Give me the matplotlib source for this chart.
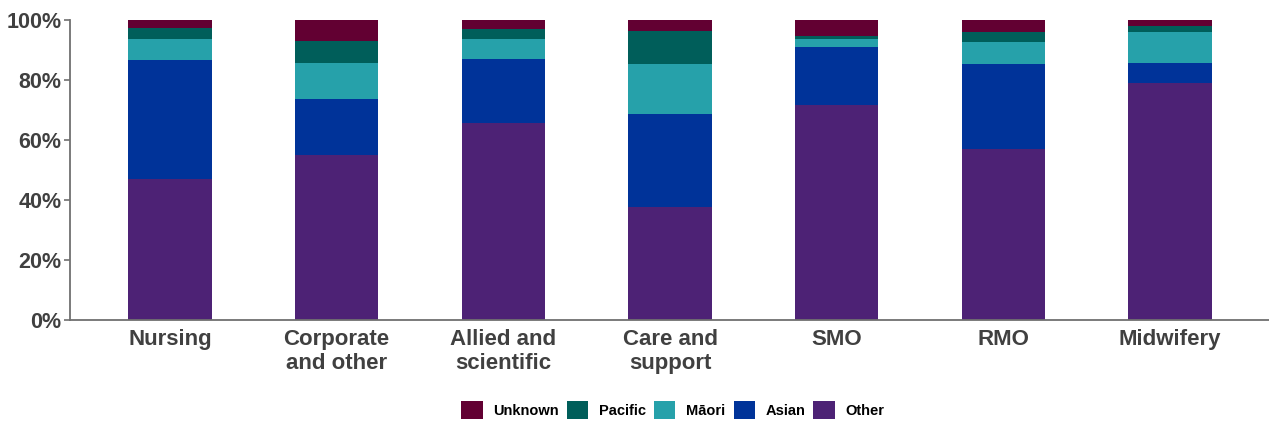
import numpy as np
import matplotlib
matplotlib.use('Agg')
import matplotlib.pyplot as plt
from matplotlib.ticker import PercentFormatter

# workforce groups and ethnicity shares (%)
groups = ['Nursing', 'Corporate\nand other', 'Allied and\nscientific', 'Care and\nsupport',
          'SMO', 'RMO', 'Midwifery']
other = [46.7, 54.8, 65.6, 37.5, 71.5, 56.7, 78.9]
asian = [39.8, 18.7, 21.2, 31.1, 19.4, 28.4, 6.5]
maori = [7.0, 11.9, 6.7, 16.5, 2.6, 7.4, 10.3]
pacific = [3.8, 7.3, 3.3, 11.0, 1.1, 3.2, 2.0]
unknown = [2.7, 7.3, 3.2, 3.9, 5.4, 4.3, 2.3]

series = [('Other', other, '#4d2275'),
          ('Asian', asian, '#003399'),
          ('M\u0101ori', maori, '#26a1aa'),
          ('Pacific', pacific, '#005e5a'),
          ('Unknown', unknown, '#620032')]

plt.rcParams['font.family'] = ['Liberation Sans', 'DejaVu Sans']

fig = plt.figure(figsize=(12.69, 4.24), dpi=100)
ax = fig.add_axes([70/1269, 1 - 319.5/424, 1200/1269, 300/424])

x = np.arange(len(groups))
bottom = np.zeros(len(groups))
handles = []
for name, vals, col in series:
    vals = np.array(vals) / 100.0
    h = ax.bar(x, vals, 0.5, bottom=bottom, color=col, label=name, edgecolor='none')
    handles.append(h)
    bottom += vals

ax.set_xlim(-0.6, 6.6)
ax.set_ylim(0, 1)
ax.set_yticks([0, 0.2, 0.4, 0.6, 0.8, 1.0])
ax.yaxis.set_major_formatter(PercentFormatter(1.0, decimals=0))
ax.set_xticks(x)
ax.set_xticklabels(groups, fontsize=16, fontweight='bold', color='#404040', linespacing=1.15)
for lab in ax.get_yticklabels():
    lab.set_fontsize(15.5)
    lab.set_fontweight('bold')
    lab.set_color('#404040')

for s in ['top', 'right']:
    ax.spines[s].set_visible(False)
for s in ['left', 'bottom']:
    ax.spines[s].set_color('#707070')
    ax.spines[s].set_linewidth(1.3)
ax.tick_params(axis='y', length=4, width=1.2, color='#707070', pad=2)
ax.tick_params(axis='x', length=0, pad=7)

leg = fig.legend(handles[::-1], [s[0] for s in series][::-1], loc='center',
                 bbox_to_anchor=(673/1269, 1 - 410/424), ncol=5, frameon=False,
                 prop={'size': 10.5, 'weight': 'bold'}, handlelength=1.45, handleheight=1.6,
                 handletextpad=0.75, columnspacing=0.55)

fig.savefig('out.png', dpi=100)
